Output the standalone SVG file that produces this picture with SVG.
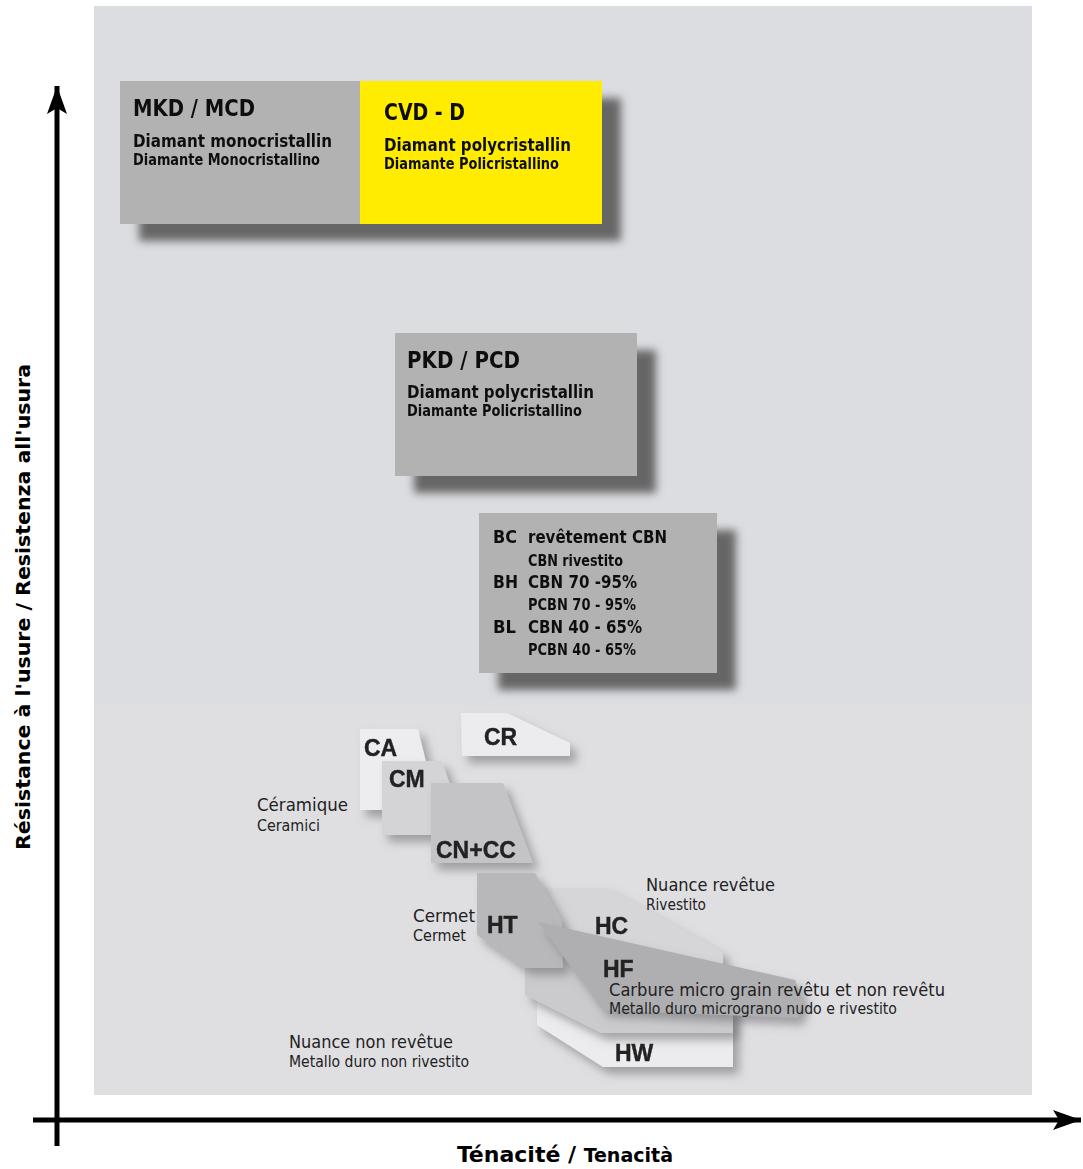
<svg xmlns="http://www.w3.org/2000/svg" width="1083" height="1169" viewBox="0 0 1083 1169">
<defs>
<style>
.box{font-family:"DejaVu Sans Condensed","DejaVu Sans","Liberation Sans",sans-serif;font-stretch:condensed;font-weight:bold;fill:#111}
.t1{font-size:23px}
.t2{font-size:18px}
.t3{font-size:15px}
.lab{font-family:"DejaVu Sans Condensed","DejaVu Sans","Liberation Sans",sans-serif;font-stretch:condensed;fill:#222}
.l1{font-size:17px}
.l2{font-size:15px}
.code{font-family:"Liberation Sans",Arial,sans-serif;font-weight:bold;font-size:23px;fill:#222;stroke:#222;stroke-width:0.4}
.axis{font-family:"DejaVu Sans Condensed","DejaVu Sans","Liberation Sans",sans-serif;font-weight:bold;fill:#000}
</style>
<filter id="bigshadow" x="-10%" y="-10%" width="130%" height="140%">
<feGaussianBlur in="SourceAlpha" stdDeviation="4"/>
<feOffset dx="19" dy="17" result="b"/>
<feFlood flood-color="#5a5a5a" flood-opacity="0.9"/>
<feComposite in2="b" operator="in" result="s"/>
<feMerge><feMergeNode in="s"/><feMergeNode in="SourceGraphic"/></feMerge>
</filter>
<filter id="soft" x="-20%" y="-20%" width="150%" height="160%">
<feDropShadow dx="6" dy="7" stdDeviation="5" flood-color="#6a6a6e" flood-opacity="0.55"/>
</filter>
<marker id="arr" viewBox="0 0 30 20" refX="28" refY="10" markerWidth="30" markerHeight="20" markerUnits="userSpaceOnUse" orient="auto">
<path d="M0,0 L28,10 L0,20 L6,10 Z" fill="#000"/>
</marker>
</defs>

<rect x="0" y="0" width="1083" height="1169" fill="#fff"/>
<rect id="panel" x="94" y="6" width="938" height="1089" fill="#dcdde1"/>
<rect x="94" y="705" width="938" height="390" fill="#dfdfe2"/>

<g id="connectors">
<line x1="57" y1="1146" x2="57" y2="86" stroke="#000" stroke-width="5" marker-end="url(#arr)"/>
<line x1="33" y1="1120" x2="1081" y2="1120" stroke="#000" stroke-width="5" marker-end="url(#arr)"/>
</g>

<g id="top-boxes" filter="url(#bigshadow)">
<g id="mkd">
<rect x="120" y="81" width="240" height="143" fill="#b2b2b2"/>
<text class="box t1" x="133" y="116" textLength="122" lengthAdjust="spacingAndGlyphs">MKD / MCD</text>
<text class="box t2" x="133" y="147" textLength="199" lengthAdjust="spacingAndGlyphs">Diamant monocristallin</text>
<text class="box t3" x="133" y="165" textLength="187" lengthAdjust="spacingAndGlyphs">Diamante Monocristallino</text>
</g>
<g id="cvd">
<rect x="360" y="81" width="242" height="143" fill="#ffec00"/>
<text class="box t1" x="384" y="120" textLength="81" lengthAdjust="spacingAndGlyphs">CVD - D</text>
<text class="box t2" x="384" y="151" textLength="187" lengthAdjust="spacingAndGlyphs">Diamant polycristallin</text>
<text class="box t3" x="384" y="169" textLength="175" lengthAdjust="spacingAndGlyphs">Diamante Policristallino</text>
</g>
</g>

<g id="pkd" filter="url(#bigshadow)">
<rect x="395" y="333" width="242" height="143" fill="#b2b2b2"/>
<text class="box t1" x="407" y="368" textLength="113" lengthAdjust="spacingAndGlyphs">PKD / PCD</text>
<text class="box t2" x="407" y="398" textLength="187" lengthAdjust="spacingAndGlyphs">Diamant polycristallin</text>
<text class="box t3" x="407" y="416" textLength="175" lengthAdjust="spacingAndGlyphs">Diamante Policristallino</text>
</g>

<g id="cbn" filter="url(#bigshadow)">
<rect x="479" y="513" width="238" height="160" fill="#b2b2b2"/>
<text class="box t2" x="493" y="543" textLength="24" lengthAdjust="spacingAndGlyphs">BC</text>
<text class="box t2" x="528" y="543" textLength="139" lengthAdjust="spacingAndGlyphs">revêtement CBN</text>
<text class="box t3" x="528" y="566" textLength="95" lengthAdjust="spacingAndGlyphs">CBN rivestito</text>
<text class="box t2" x="493" y="588" textLength="25" lengthAdjust="spacingAndGlyphs">BH</text>
<text class="box t2" x="528" y="588" textLength="109" lengthAdjust="spacingAndGlyphs">CBN 70 -95%</text>
<text class="box t3" x="528" y="610" textLength="108" lengthAdjust="spacingAndGlyphs">PCBN 70 - 95%</text>
<text class="box t2" x="493" y="633" textLength="23" lengthAdjust="spacingAndGlyphs">BL</text>
<text class="box t2" x="528" y="633" textLength="114" lengthAdjust="spacingAndGlyphs">CBN 40 - 65%</text>
<text class="box t3" x="528" y="655" textLength="108" lengthAdjust="spacingAndGlyphs">PCBN 40 - 65%</text>
</g>

<g id="cr" filter="url(#soft)">
<polygon points="461,713 507,713 570,743 570,756 462,756" fill="#ececee"/>
<text class="code" x="484" y="745">CR</text>
</g>
<g id="ca" filter="url(#soft)">
<polygon points="360,729 418,729 428,770 428,810 360,810" fill="#ededef"/>
<text class="code" x="364" y="756">CA</text>
</g>
<g id="cm" filter="url(#soft)">
<polygon points="382,761 442,761 452,790 452,835 382,835" fill="#d4d4d6"/>
<text class="code" x="389" y="787">CM</text>
</g>
<g id="cn" filter="url(#soft)">
<polygon points="431,783 503,783 533,863 431,863" fill="#c4c4c6"/>
<text class="code" x="436" y="858">CN+CC</text>
</g>

<g id="hw" filter="url(#soft)">
<polygon points="537,980 537,1025 603,1067 733,1067 733,1005 640,990" fill="#ececee"/>
<text class="code" x="615" y="1061">HW</text>
</g>
<g id="hmid" filter="url(#soft)">
<polygon points="525,940 525,995 601,1033 733,1033 733,1003 620,975" fill="#cbcbcd"/>
</g>
<g id="hc" filter="url(#soft)">
<polygon points="545,888 607,888 723,952 723,968 600,968 545,930" fill="#d6d6d8"/>
<text class="code" x="595" y="934">HC</text>
</g>
<g id="ht" filter="url(#soft)">
<polygon points="477,873 535,873 562,920 563,968 525,968 477,935" fill="#b8b8ba"/>
<text class="code" x="487" y="933">HT</text>
</g>
<g id="hf" filter="url(#soft)">
<polygon points="538,922 795,980 803,1000 798,1018 603,1010" fill="#afafb1"/>
<text class="code" x="603" y="977">HF</text>
</g>

<g id="labels">
<text class="lab l1" x="257" y="811" textLength="91" lengthAdjust="spacingAndGlyphs">Céramique</text>
<text class="lab l2" x="257" y="831" textLength="63" lengthAdjust="spacingAndGlyphs">Ceramici</text>
<text class="lab l1" x="646" y="891" textLength="129" lengthAdjust="spacingAndGlyphs">Nuance revêtue</text>
<text class="lab l2" x="646" y="910" textLength="60" lengthAdjust="spacingAndGlyphs">Rivestito</text>
<text class="lab l1" x="413" y="922" textLength="62" lengthAdjust="spacingAndGlyphs">Cermet</text>
<text class="lab l2" x="413" y="941" textLength="53" lengthAdjust="spacingAndGlyphs">Cermet</text>
<text class="lab l1" x="609" y="996" textLength="336" lengthAdjust="spacingAndGlyphs">Carbure micro grain revêtu et non revêtu</text>
<text class="lab l2" x="609" y="1014" textLength="288" lengthAdjust="spacingAndGlyphs">Metallo duro micrograno nudo e rivestito</text>
<text class="lab l1" x="289" y="1048" textLength="164" lengthAdjust="spacingAndGlyphs">Nuance non revêtue</text>
<text class="lab l2" x="289" y="1067" textLength="180" lengthAdjust="spacingAndGlyphs">Metallo duro non rivestito</text>
</g>

<g id="axis-labels">
<text class="axis" x="457" y="1162" font-size="22" textLength="216" lengthAdjust="spacingAndGlyphs">Ténacité / <tspan font-size="19">Tenacità</tspan></text>
<text class="axis" font-size="20" transform="translate(30,607) rotate(-90)" x="0" y="0" text-anchor="middle" textLength="486" lengthAdjust="spacingAndGlyphs" style="font-family:'DejaVu Sans','Liberation Sans',sans-serif">Résistance à l'usure / Resistenza all'usura</text>
</g>
</svg>
